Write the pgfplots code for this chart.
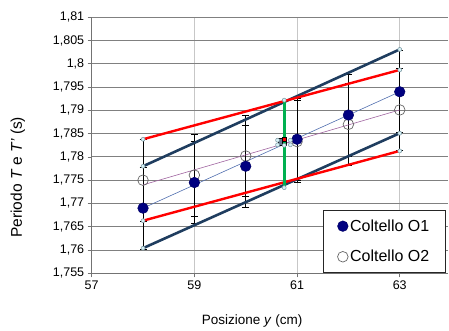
\documentclass[border=0pt]{standalone}
\usepackage{pgfplots}
\pgfplotsset{compat=1.18}
\usepackage{fontspec}
\setmainfont{Liberation Sans}
\definecolor{navyline}{RGB}{31,61,95}
\definecolor{fitblue}{RGB}{80,110,175}
\definecolor{fitpurple}{RGB}{160,100,160}
\definecolor{selgreen}{RGB}{0,176,80}
\definecolor{markO1}{RGB}{0,0,128}
\definecolor{handlefill}{RGB}{215,240,245}
\definecolor{handledraw}{RGB}{120,150,160}
\begin{document}
\begin{tikzpicture}
\begin{axis}[
  at={(0,0)}, anchor=south west,
  scale only axis, width=356.3pt, height=256pt,
  xmin=57, xmax=63.94, ymin=1.755, ymax=1.81,
  axis lines*=left,
  axis line style={draw=black!55, line width=0.8pt},
  xtick={57,59,61,63},
  ytick={1.755,1.76,1.765,1.77,1.775,1.78,1.785,1.79,1.795,1.8,1.805,1.81},
  yticklabels={{1,755},{1,76},{1,765},{1,77},{1,775},{1,78},{1,785},{1,79},{1,795},{1,8},{1,805},{1,81}},
  tick align=outside, major tick length=4pt,
  tick style={draw=black!55, line width=0.8pt},
  ymajorgrids, xmajorgrids,
  y grid style={draw=black!50, line width=0.9pt},
  x grid style={draw=black!22, line width=0.9pt},
  ticklabel style={font=\fontsize{12.5}{14}\selectfont},
  /pgf/number format/assume math mode=true,
  xlabel={Posizione \textit{y} (cm)},
  ylabel={Periodo \textit{T} e \textit{T'} (s)},
  xlabel style={font=\fontsize{13.5}{16}\selectfont, at={(axis description cs:0.45,-0.1875)}, anchor=center},
  ylabel style={font=\fontsize{15.5}{18}\selectfont, at={(axis description cs:-0.207,0.375)}, anchor=center},
  reverse legend,
  legend style={at={(axis description cs:0.9935,0.0023)}, anchor=south east,
    draw=black!85, line width=0.8pt, fill=white,
    font=\fontsize{16}{19}\selectfont,
    inner xsep=14pt, inner ysep=7pt, row sep=13.5pt},
  legend cell align=left,
]
% error bars
\addplot[forget plot, draw=none, mark=none,
  error bars/.cd, y dir=both, y explicit,
  error bar style={black, line width=1pt},
  error mark options={rotate=90, mark size=3.5pt, line width=1pt, black}]
  table[x=x, y=y, y error=e] {
x y e
58 1.7690 0.0088
59 1.7745 0.0088
60 1.7780 0.0088
61 1.7838 0.0088
62 1.7890 0.0088
63 1.7940 0.0088
};
\addplot[forget plot, draw=none, mark=none,
  error bars/.cd, y dir=both, y explicit,
  error bar style={black, line width=1pt},
  error mark options={rotate=90, mark size=3.5pt, line width=1pt, black}]
  table[x=x, y=y, y error=e] {
x y e
58 1.7750 0.0088
59 1.7761 0.0088
60 1.7802 0.0088
61 1.7833 0.0088
62 1.7870 0.0088
63 1.7901 0.0088
};
% envelope lines
\addplot[forget plot, navyline, line width=2.6pt] coordinates {(58,1.7780) (63,1.8031)};
\addplot[forget plot, navyline, line width=2.6pt] coordinates {(58,1.7604) (63,1.7851)};
\addplot[forget plot, red, line width=2.4pt] coordinates {(58,1.7838) (63,1.7987)};
\addplot[forget plot, red, line width=2.4pt] coordinates {(58,1.7663) (63,1.7813)};
% fit lines
\addplot[forget plot, fitblue, line width=0.6pt] coordinates {(58,1.7690) (63,1.7940)};
\addplot[forget plot, fitpurple, line width=0.6pt] coordinates {(58,1.7740) (63,1.7901)};
% green segment
\addplot[forget plot, selgreen, line width=2.9pt] coordinates {(60.75,1.7734) (60.75,1.7922)};
% O2 markers
\addplot[only marks, mark=o, mark size=5.3pt, mark options={draw=black!60, line width=0.7pt}]
  coordinates {(58,1.7750) (59,1.7761) (60,1.7802) (61,1.7833) (62,1.7870) (63,1.7901)};
\addlegendentry{Coltello O2}
% O1 markers
\addplot[only marks, mark=*, mark size=5.3pt, mark options={draw=markO1!80!black, fill=markO1, line width=0.5pt}]
  coordinates {(58,1.7690) (59,1.7745) (60,1.7780) (61,1.7838) (62,1.7890) (63,1.7940)};
\addlegendentry{Coltello O1}
% selection marks
\addplot[forget plot, only marks, mark=square*, mark size=3.5pt, mark options={draw=none, fill=navyline!70}]
  coordinates {(60.70,1.7832)};
\addplot[forget plot, only marks, mark=square*, mark size=1.8pt, mark options={draw=none, fill=red}]
  coordinates {(60.75,1.7838)};
\addplot[forget plot, only marks, mark=square*, mark size=1.8pt, mark options={draw=none, fill=selgreen}]
  coordinates {(60.75,1.7829)};
\addplot[forget plot, only marks, mark=*, mark size=2pt, mark options={draw=handledraw, fill=handlefill, line width=0.5pt}]
  coordinates {(58,1.7838) (58,1.7780) (58,1.7663) (58,1.7604) (63,1.8031) (63,1.7987) (63,1.7851) (63,1.7813) (60.75,1.7922) (60.75,1.7734)
  (60.62,1.7836) (60.62,1.7826) (60.75,1.7825) (60.87,1.7826) (60.87,1.7836)};
\end{axis}
\pgfresetboundingbox
\path (-91.7pt,-57.7pt) rectangle (357.3pt,273.3pt);
\end{tikzpicture}
\end{document}
